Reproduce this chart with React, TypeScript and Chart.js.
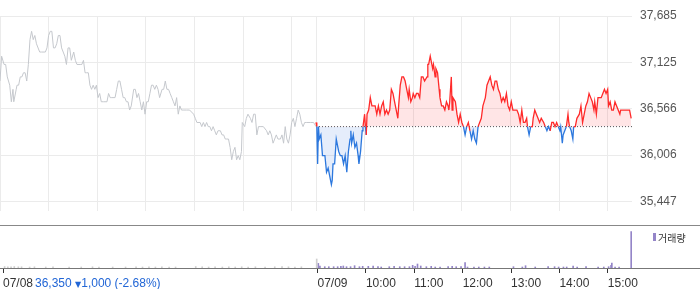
import React, { useEffect, useRef } from "react";
import { Chart, registerables } from "chart.js";

Chart.register(...registerables);

const FONT = '"Liberation Sans", Arial, sans-serif';
const BASE_PRICE = 36350;

// 07/08 (minutes from 09:00 of 07/08) and prices
const day1Minutes = [0, 2, 5, 7, 9, 12, 14, 16, 17, 20, 21, 23, 25, 27, 29, 31, 33, 35, 37, 39, 41, 43, 45, 49, 51, 56, 58, 60, 62, 64, 66, 68, 70, 72, 74, 76, 78, 80, 82, 84, 86, 88, 91, 93, 95, 99, 101, 103, 105, 107, 109, 111, 113, 115, 117, 119, 121, 123, 125, 128, 132, 134, 136, 138, 142, 144, 146, 148, 150, 152, 154, 156, 158, 160, 162, 165, 167, 169, 171, 173, 175, 177, 179, 181, 183, 185, 187, 189, 191, 193, 195, 197, 200, 202, 204, 206, 208, 210, 212, 214, 216, 218, 220, 222, 224, 226, 230, 234, 239, 241, 243, 247, 249, 251, 253, 255, 257, 259, 261, 263, 265, 267, 269, 272, 274, 276, 278, 280, 282, 284, 286, 288, 290, 292, 294, 296, 298, 299, 302, 304, 306, 309, 311, 313, 315, 317, 319, 321, 325, 329, 331, 333, 335, 337, 339, 341, 343, 346, 348, 350, 352, 354, 356, 358, 360, 362, 364, 366, 368, 370, 372, 374, 376, 378, 383, 387, 390];
const day1Prices = [36900, 37200, 37100, 37100, 36950, 36850, 36650, 36800, 36650, 36800, 36850, 36850, 36950, 36950, 37000, 37000, 36900, 37100, 37400, 37500, 37400, 37450, 37350, 37250, 37250, 37250, 37300, 37450, 37500, 37500, 37300, 37300, 37350, 37450, 37450, 37300, 37250, 37200, 37100, 37300, 37300, 37150, 37250, 37150, 37100, 37100, 37100, 37150, 37000, 37000, 37000, 36850, 36800, 36850, 36800, 36850, 36700, 36750, 36650, 36650, 36650, 36750, 36700, 36700, 36700, 36800, 36900, 36900, 36800, 36700, 36700, 36650, 36650, 36550, 36600, 36800, 36800, 36700, 36750, 36650, 36550, 36650, 36500, 36650, 36650, 36750, 36850, 36850, 36800, 36850, 36800, 36700, 36800, 36800, 36900, 36800, 36800, 36750, 36700, 36650, 36600, 36700, 36500, 36600, 36550, 36550, 36550, 36550, 36500, 36450, 36400, 36400, 36350, 36400, 36350, 36400, 36350, 36350, 36300, 36350, 36300, 36250, 36300, 36300, 36250, 36250, 36200, 36200, 36200, 36100, 35950, 36050, 36100, 35950, 36000, 35950, 36050, 36400, 36350, 36450, 36500, 36450, 36400, 36500, 36500, 36250, 36350, 36350, 36350, 36300, 36250, 36300, 36250, 36150, 36200, 36250, 36200, 36200, 36250, 36150, 36350, 36200, 36150, 36250, 36400, 36450, 36350, 36450, 36550, 36500, 36400, 36350, 36400, 36400, 36400, 36400, 36350];

// 07/09 (minutes from 09:00 of 07/08; 390 = 09:00 of 07/09) and prices
const day2Minutes = [390, 391, 392, 393, 394, 396, 398, 401, 403, 405, 407, 409, 410, 411, 413, 415, 418, 420, 422, 424, 426, 428, 430, 432, 433, 434, 436, 438, 440, 442, 443, 445, 447, 448, 450, 451, 452, 453, 455, 457, 459, 461, 463, 465, 467, 469, 471, 473, 475, 477, 479, 481, 483, 485, 487, 490, 491, 492, 494, 496, 498, 500, 502, 504, 505, 507, 509, 510, 512, 514, 516, 518, 520, 522, 524, 527, 528, 529, 531, 532, 534, 535, 537, 538, 540, 542, 543, 545, 547, 549, 551, 553, 554, 555, 557, 558, 559, 562, 564, 566, 568, 570, 572, 574, 576, 578, 580, 582, 584, 586, 588, 590, 592, 594, 596, 599, 601, 603, 605, 607, 609, 611, 613, 615, 617, 619, 621, 623, 625, 627, 629, 631, 633, 636, 638, 640, 642, 644, 646, 648, 650, 651, 653, 655, 657, 658, 660, 662, 664, 666, 668, 671, 673, 675, 677, 679, 681, 683, 685, 687, 689, 691, 692, 694, 695, 697, 699, 701, 702, 703, 705, 707, 708, 710, 712, 715, 717, 719, 721, 723, 725, 727, 729, 731, 733, 734, 736, 738, 740, 742, 744, 746, 748, 750, 751, 753, 755, 757, 759, 761, 763, 765, 766, 769, 773, 777, 779];
const day2Prices = [36400, 36350, 35900, 36350, 36200, 36250, 36000, 36000, 35800, 35850, 35750, 35650, 35700, 35900, 35900, 36200, 36050, 36000, 36000, 35900, 36000, 35800, 36050, 36200, 36300, 36150, 36250, 36100, 36150, 36000, 35900, 36050, 36300, 36350, 36500, 36350, 36250, 36500, 36550, 36700, 36600, 36600, 36600, 36500, 36600, 36500, 36600, 36650, 36500, 36550, 36500, 36550, 36800, 36750, 36650, 36500, 36450, 36600, 36850, 36950, 36950, 36900, 36800, 36700, 36800, 36650, 36700, 36750, 36700, 36750, 36750, 36700, 36950, 36950, 36900, 36950, 37100, 37100, 37200, 37150, 37050, 37100, 36950, 37050, 37000, 36800, 36700, 36600, 36600, 36550, 36650, 36600, 36550, 36650, 36950, 36550, 36700, 36650, 36500, 36400, 36500, 36400, 36350, 36250, 36350, 36400, 36300, 36200, 36300, 36200, 36150, 36350, 36400, 36450, 36600, 36700, 36850, 36900, 36950, 36850, 36800, 36900, 36900, 36800, 36750, 36650, 36700, 36650, 36750, 36600, 36550, 36650, 36550, 36550, 36550, 36500, 36400, 36550, 36400, 36400, 36450, 36350, 36250, 36350, 36350, 36450, 36550, 36500, 36450, 36400, 36450, 36400, 36350, 36300, 36350, 36300, 36400, 36400, 36350, 36400, 36350, 36300, 36350, 36150, 36250, 36300, 36350, 36500, 36400, 36350, 36300, 36200, 36350, 36350, 36450, 36500, 36600, 36400, 36500, 36600, 36650, 36750, 36700, 36650, 36550, 36650, 36500, 36700, 36700, 36700, 36750, 36800, 36750, 36800, 36600, 36650, 36550, 36550, 36650, 36600, 36550, 36500, 36550, 36550, 36550, 36550, 36450];

// Volume (shares)
const day1VolMinutes = [2, 6, 10, 14, 19, 23, 33, 39, 53, 62, 82, 97, 111, 119, 136, 152, 165, 173, 181, 189, 197, 206, 214, 239, 247, 255, 263, 272, 280, 288, 296, 304, 313, 325, 337, 346, 354, 362, 370, 389];
const day1Volumes = [15000, 12000, 12000, 15000, 12000, 12000, 10000, 12000, 10000, 12000, 10000, 10000, 12000, 10000, 10000, 10000, 12000, 10000, 12000, 10000, 12000, 10000, 10000, 15000, 12000, 10000, 12000, 10000, 12000, 10000, 12000, 10000, 12000, 10000, 12000, 15000, 12000, 10000, 12000, 90000];
const day2VolMinutes = [391, 393, 399, 404, 410, 415, 419, 422, 426, 431, 436, 442, 446, 453, 459, 465, 469, 479, 485, 492, 498, 504, 508, 511, 514, 518, 525, 531, 536, 542, 552, 557, 562, 568, 573, 576, 584, 590, 597, 603, 633, 644, 648, 660, 676, 684, 689, 695, 699, 707, 712, 723, 738, 745, 751, 754, 755, 759, 764, 779];
const day2Volumes = [46000, 20000, 13000, 13000, 13000, 13000, 17000, 20000, 13000, 13000, 23000, 13000, 17000, 17000, 20000, 13000, 10000, 13000, 17000, 13000, 13000, 13000, 27000, 17000, 40000, 20000, 13000, 17000, 10000, 10000, 13000, 17000, 13000, 13000, 53000, 10000, 10000, 10000, 10000, 10000, 13000, 10000, 23000, 10000, 13000, 13000, 10000, 10000, 10000, 20000, 10000, 13000, 10000, 10000, 13000, 27000, 50000, 10000, 10000, 363000];

// Axes
const priceTickValues = [35447, 36006.5, 36566, 37125.5, 37685];
const gridMinutes = [0, 60, 120, 180, 240, 300, 360, 390, 450, 510, 570, 630, 690, 750];
const timeTickValues = [0, 390, 450, 510, 570, 630, 690, 750];
const timeTickLabels = ["07/08", "07/09", "10:00", "11:00", "12:00", "13:00", "14:00", "15:00"];

const RED = "#ff2a2a";
const BLUE = "#2c78de";
const RED_FILL = "rgba(255, 40, 50, 0.12)";
const BLUE_FILL = "rgba(40, 110, 220, 0.12)";
const GRID = "#ebebeb";

export default function App() {
  const priceRef = useRef<HTMLCanvasElement>(null);
  const volRef = useRef<HTMLCanvasElement>(null);

  useEffect(() => {
    const d1 = day1Minutes.map((x, i) => ({ x, y: day1Prices[i] }));
    const d2 = day2Minutes.map((x, i) => ({ x, y: day2Prices[i] }));
    const base = [
      { x: day2Minutes[0], y: BASE_PRICE },
      { x: 780, y: BASE_PRICE },
    ];

    const pc = new Chart(priceRef.current!, {
      type: "line",
      data: {
        datasets: [
          {
            label: "07/08",
            data: d1,
            borderColor: "#c5c8cd",
            borderWidth: 1,
            pointRadius: 0,
            fill: false,
            tension: 0,
          },
          {
            label: "07/09",
            data: d2,
            borderColor: RED,
            borderWidth: 1.3,
            pointRadius: 0,
            tension: 0,
            segment: {
              borderColor: (ctx: any) =>
                (ctx.p0.parsed.y + ctx.p1.parsed.y) / 2 >= BASE_PRICE ? RED : BLUE,
            },
            fill: { target: { value: BASE_PRICE }, above: RED_FILL, below: BLUE_FILL },
          },
          {
            label: "base",
            data: base,
            borderColor: "#555",
            borderWidth: 1,
            borderDash: [1, 2],
            pointRadius: 0,
            fill: false,
          },
        ],
      },
      options: {
        animation: false,
        responsive: false,
        maintainAspectRatio: false,
        parsing: false as any,
        normalized: true,
        layout: { padding: { top: 16, left: 0, right: 0, bottom: 0 } },
        plugins: { legend: { display: false }, tooltip: { enabled: false } },
        scales: {
          x: {
            type: "linear",
            min: 0,
            max: 780,
            afterBuildTicks: (s: any) => {
              s.ticks = gridMinutes.map((v) => ({ value: v }));
            },
            afterFit: (s: any) => {
              s.height = 1;
            },
            ticks: { display: false },
            grid: { color: GRID, drawTicks: false },
            border: { display: false },
          },
          y: {
            position: "right",
            min: 35334,
            max: 37685,
            afterBuildTicks: (s: any) => {
              s.ticks = priceTickValues.map((v) => ({ value: v }));
            },
            afterFit: (s: any) => {
              s.width = 68;
            },
            ticks: {
              callback: (v: any) => Math.floor(Number(v)).toLocaleString("en-US"),
              color: "#555",
              font: { size: 12, family: FONT },
              padding: 8,
            },
            grid: { color: GRID, drawTicks: false },
            border: { display: false },
          },
        },
      },
    });

    const v1 = day1VolMinutes.map((x, i) => ({ x, y: day1Volumes[i] }));
    const v2 = day2VolMinutes.map((x, i) => ({ x, y: day2Volumes[i] }));

    const vc = new Chart(volRef.current!, {
      type: "bar",
      data: {
        datasets: [
          { label: "07/08", data: v1, backgroundColor: "#cfcfcf", barThickness: 1, grouped: false } as any,
          { label: "거래량", data: v2, backgroundColor: "#9485c8", barThickness: 1, grouped: false } as any,
        ],
      },
      options: {
        animation: false,
        responsive: false,
        maintainAspectRatio: false,
        layout: { padding: { top: 0, left: 0, right: 68, bottom: 0 } },
        plugins: { legend: { display: false }, tooltip: { enabled: false } },
        scales: {
          x: {
            type: "linear",
            min: 0,
            max: 780,
            offset: false,
            afterBuildTicks: (s: any) => {
              s.ticks = timeTickValues.map((v) => ({ value: v }));
            },
            afterFit: (s: any) => {
              s.height = 21;
            },
            ticks: {
              callback: (_v: any, i: number) => timeTickLabels[i],
              align: "start",
              color: "#333",
              font: { size: 12, family: FONT },
              padding: 3,
              maxRotation: 0,
              autoSkip: false,
            },
            grid: {
              display: true,
              drawOnChartArea: false,
              drawTicks: true,
              tickLength: 5,
              tickColor: "#333",
              offset: false,
            },
            border: { display: true, color: "#777" },
          },
          y: { display: false, min: 0, max: 420000 },
        },
      },
    });

    return () => {
      pc.destroy();
      vc.destroy();
    };
  }, []);

  return (
    <div
      style={{
        position: "fixed",
        left: 0,
        top: 0,
        width: 700,
        height: 289,
        background: "#fff",
        overflow: "hidden",
        fontFamily: FONT,
      }}
    >
      <div style={{ position: "absolute", left: 0, top: 225, width: 700, height: 1, background: "#888" }} />
      <div style={{ position: "absolute", left: 0, top: 268, width: 700, height: 1, background: "#777" }} />
      <canvas
        ref={priceRef}
        width={700}
        height={226}
        style={{ position: "absolute", left: 0, top: 0, width: 700, height: 226 }}
      />
      <canvas
        ref={volRef}
        width={700}
        height={63}
        style={{ position: "absolute", left: 0, top: 226, width: 700, height: 63 }}
      />
      <div
        style={{
          position: "absolute",
          left: 35,
          top: 276,
          fontSize: 12,
          lineHeight: "14px",
          color: "#2266d6",
          whiteSpace: "nowrap",
        }}
      >
        36,350 <span style={{ fontSize: 8, fontFamily: '"DejaVu Sans", sans-serif' }}>▼</span>1,000 (-2.68%)
      </div>
      <div
        style={{
          position: "absolute",
          left: 653,
          top: 230,
          height: 14,
          display: "flex",
          alignItems: "center",
          whiteSpace: "nowrap",
        }}
      >
        <span style={{ display: "inline-block", width: 3, height: 8, background: "#9485c8", marginRight: 2 }} />
        <span style={{ fontSize: 10, color: "#333", fontFamily: '"Noto Sans CJK KR", sans-serif' }}>거래량</span>
      </div>
    </div>
  );
}
